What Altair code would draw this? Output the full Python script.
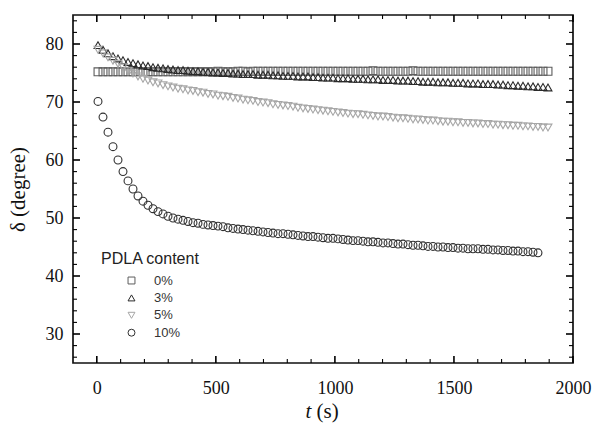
import altair as alt
import pandas as pd

# sampling times (s)
t_values = [5, 26, 47, 68, 89, 110, 131, 152, 173, 194, 215, 236, 257, 278, 299, 320,
            341, 362, 383, 404, 425, 446, 467, 488, 509, 530, 551, 572, 593, 614, 635,
            656, 677, 698, 719, 740, 761, 782, 803, 824, 845, 866, 887, 908, 929, 950,
            971, 992, 1013, 1034, 1055, 1076, 1097, 1118, 1139, 1160, 1181, 1202, 1223,
            1244, 1265, 1286, 1307, 1328, 1349, 1370, 1391, 1412, 1433, 1454, 1475, 1496,
            1517, 1538, 1559, 1580, 1601, 1622, 1643, 1664, 1685, 1706, 1727, 1748, 1769,
            1790, 1811, 1832, 1853, 1874, 1895]

# 0% PDLA
d_0 = [75.2, 75.2, 75.2, 75.2, 75.2, 75.2, 75.2, 75.2, 75.2, 75.2, 75.2, 75.2, 75.2, 75.2,
       75.2, 75.2, 75.2, 75.2, 75.2, 75.2, 75.2, 75.2, 75.2, 75.2, 75.3, 75.2, 75.2, 75.2,
       75.3, 75.3, 75.2, 75.3, 75.3, 75.3, 75.3, 75.3, 75.3, 75.3, 75.3, 75.3, 75.3, 75.3,
       75.3, 75.3, 75.3, 75.3, 75.3, 75.3, 75.3, 75.3, 75.3, 75.3, 75.3, 75.3, 75.3, 75.4,
       75.3, 75.3, 75.3, 75.3, 75.3, 75.3, 75.3, 75.4, 75.3, 75.3, 75.3, 75.3, 75.3, 75.3,
       75.3, 75.3, 75.3, 75.3, 75.3, 75.3, 75.3, 75.3, 75.3, 75.3, 75.3, 75.3, 75.3, 75.3,
       75.3, 75.3, 75.3, 75.3, 75.3, 75.3, 75.3]
# 3% PDLA
d_3 = [79.8, 79.0, 78.4, 77.9, 77.5, 77.2, 76.9, 76.7, 76.5, 76.3, 76.2, 76.0, 75.9, 75.8,
       75.7, 75.6, 75.5, 75.5, 75.4, 75.3, 75.3, 75.2, 75.2, 75.1, 75.1, 75.0, 75.0, 74.9,
       74.9, 74.8, 74.8, 74.8, 74.7, 74.7, 74.7, 74.6, 74.6, 74.5, 74.5, 74.5, 74.4, 74.4,
       74.4, 74.3, 74.3, 74.2, 74.2, 74.2, 74.1, 74.1, 74.1, 74.0, 74.0, 74.0, 73.9, 73.9,
       73.9, 73.8, 73.8, 73.8, 73.7, 73.7, 73.7, 73.6, 73.6, 73.5, 73.5, 73.5, 73.4, 73.4,
       73.4, 73.3, 73.3, 73.3, 73.2, 73.2, 73.2, 73.1, 73.1, 73.1, 73.0, 73.0, 72.9, 72.9,
       72.8, 72.8, 72.7, 72.7, 72.6, 72.6, 72.5]
# 5% PDLA
d_5 = [79.0, 78.4, 77.7, 77.1, 76.6, 76.0, 75.4, 74.9, 74.4, 74.0, 73.7, 73.4, 73.2, 72.9,
       72.7, 72.5, 72.3, 72.2, 72.0, 71.9, 71.7, 71.6, 71.4, 71.3, 71.1, 71.0, 70.9, 70.7,
       70.6, 70.4, 70.3, 70.2, 70.0, 69.9, 69.8, 69.6, 69.5, 69.4, 69.3, 69.2, 69.0, 68.9,
       68.8, 68.7, 68.6, 68.5, 68.4, 68.3, 68.2, 68.1, 68.0, 67.9, 67.9, 67.8, 67.7, 67.6,
       67.5, 67.5, 67.4, 67.3, 67.2, 67.2, 67.1, 67.0, 67.0, 66.9, 66.8, 66.8, 66.7, 66.6,
       66.6, 66.5, 66.5, 66.4, 66.4, 66.3, 66.3, 66.2, 66.2, 66.1, 66.1, 66.0, 66.0, 65.9,
       65.9, 65.8, 65.8, 65.7, 65.7, 65.6, 65.6]
# 10% PDLA
d_10 = [70.1, 67.4, 64.8, 62.3, 60.0, 58.0, 56.4, 55.0, 53.8, 52.9, 52.2, 51.6, 51.1, 50.7,
        50.3, 50.0, 49.8, 49.6, 49.4, 49.2, 49.1, 48.9, 48.8, 48.7, 48.6, 48.5, 48.3, 48.2,
        48.1, 48.0, 47.9, 47.8, 47.7, 47.6, 47.5, 47.4, 47.3, 47.3, 47.2, 47.1, 47.0, 46.9,
        46.8, 46.8, 46.7, 46.6, 46.5, 46.5, 46.4, 46.3, 46.2, 46.1, 46.1, 46.0, 45.9, 45.9,
        45.8, 45.7, 45.7, 45.6, 45.5, 45.5, 45.4, 45.3, 45.3, 45.2, 45.1, 45.1, 45.0, 45.0,
        44.9, 44.9, 44.8, 44.8, 44.7, 44.7, 44.7, 44.6, 44.6, 44.5, 44.5, 44.4, 44.4, 44.3,
        44.3, 44.2, 44.2, 44.1, 44.0]

series_labels = ["0%", "3%", "5%", "10%"]
series_colors = ["#5c5c5c", "#2a2a2a", "#a6a6a6", "#303030"]
series_shapes = ["square", "triangle-up", "triangle-down", "circle"]

x_major = [0, 500, 1000, 1500, 2000]
x_minor = [100, 200, 300, 400, 600, 700, 800, 900, 1100, 1200, 1300, 1400,
           1600, 1700, 1800, 1900]
y_major = [30, 40, 50, 60, 70, 80]
y_minor = [26, 28, 32, 34, 36, 38, 42, 44, 46, 48, 52, 54, 56, 58, 62, 64, 66, 68,
           72, 74, 76, 78, 82, 84]

rows = []
for lab, vals in zip(series_labels, [d_0, d_3, d_5, d_10]):
    for t, v in zip(t_values, vals):
        rows.append({"t": t, "d": v, "series": lab})
df = pd.DataFrame(rows)
anchor = pd.DataFrame({"t": [0], "d": [50]})

W, H = 500, 348
SERIF = "Liberation Serif"
SANS = "Liberation Sans"
MAJOR_LEN, MINOR_LEN = 7, 4

xs = alt.Scale(domain=[-100, 2000], nice=False, zero=False)
ys = alt.Scale(domain=[25, 85], nice=False, zero=False)


def x_ticks(vals, length, width):
    """Inward ticks on bottom and top frame edges at the given x tick values."""
    base = alt.Chart(pd.DataFrame({"v": vals})).mark_rule(color="black", strokeWidth=width)
    bottom = base.encode(x=alt.X("v:Q", scale=xs, axis=None),
                         y=alt.value(H), y2=alt.value(H - length))
    top = base.encode(x=alt.X("v:Q", scale=xs, axis=None),
                      y=alt.value(0), y2=alt.value(length))
    return [bottom, top]


def y_ticks(vals, length, width):
    """Inward ticks on left and right frame edges at the given y tick values."""
    base = alt.Chart(pd.DataFrame({"v": vals})).mark_rule(color="black", strokeWidth=width)
    left = base.encode(y=alt.Y("v:Q", scale=ys, axis=None),
                       x=alt.value(0), x2=alt.value(length))
    right = base.encode(y=alt.Y("v:Q", scale=ys, axis=None),
                        x=alt.value(W), x2=alt.value(W - length))
    return [left, right]


tick_layers = (x_ticks(x_major, MAJOR_LEN, 1.6) + x_ticks(x_minor, MINOR_LEN, 1.1)
               + y_ticks(y_major, MAJOR_LEN, 1.6) + y_ticks(y_minor, MINOR_LEN, 1.1))

# tick labels and axis titles
labels_layer = alt.Chart(anchor).mark_point(opacity=0).encode(
    x=alt.X("t:Q", scale=xs, axis=alt.Axis(
        orient="bottom", values=x_major, format="d", ticks=False, domain=False, grid=False,
        labelFont=SERIF, labelFontSize=18, labelColor="#111", labelPadding=16,
        labelFlush=False, title="t", titleFont=SERIF, titleFontSize=21,
        titleFontStyle="italic", titleFontWeight="normal", titleColor="#111",
        titleX=232, titleY=54, titleAlign="left", titleBaseline="alphabetic")),
    y=alt.Y("d:Q", scale=ys, axis=alt.Axis(
        orient="left", values=y_major, format="d", ticks=False, domain=False, grid=False,
        labelFont=SERIF, labelFontSize=18, labelColor="#111", labelPadding=10,
        labelFlush=False, title="δ (degree)", titleFont=SERIF, titleFontSize=21,
        titleFontWeight="normal", titleColor="#111", titlePadding=17)),
)

# second part of the x title, upright
unit_title = alt.Chart(anchor).mark_point(opacity=0).encode(
    x=alt.X("t:Q", scale=xs, axis=alt.Axis(
        orient="bottom", ticks=False, labels=False, domain=False, grid=False,
        title="(s)", titleFont=SERIF, titleFontSize=21, titleFontWeight="normal",
        titleColor="#111", titleX=243, titleY=54, titleAlign="left",
        titleBaseline="alphabetic")),
    y=alt.Y("d:Q", scale=ys, axis=None),
)

legend = alt.Legend(
    title="PDLA content", orient="none", legendX=28, legendY=236, padding=0,
    titleFont=SANS, titleFontSize=16, titleFontWeight="normal", titleColor="#222",
    titlePadding=7, labelFont=SANS, labelFontSize=13, labelColor="#333",
    symbolSize=48, symbolStrokeWidth=1, symbolOffset=24, labelOffset=16,
    rowPadding=3.4,
)
color = alt.Color("series:N", scale=alt.Scale(domain=series_labels, range=series_colors), legend=legend)
shape = alt.Shape("series:N", scale=alt.Scale(domain=series_labels, range=series_shapes), legend=legend)

main = alt.Chart(df).mark_point(filled=False, size=62, strokeWidth=1.1, opacity=1).encode(
    x=alt.X("t:Q", scale=xs, axis=None),
    y=alt.Y("d:Q", scale=ys, axis=None),
    color=color, shape=shape,
)

chart = alt.layer(*tick_layers, labels_layer, unit_title, main).resolve_axis(
    x="independent", y="independent"
).properties(
    width=W, height=H,
    autosize=alt.AutoSizeParams(type="none"),
    padding={"left": 73, "top": 15, "right": 19, "bottom": 66},
).configure_view(stroke="#111", strokeWidth=1.7)

chart.save("out.html", embed_options={"renderer": "svg", "actions": False})
